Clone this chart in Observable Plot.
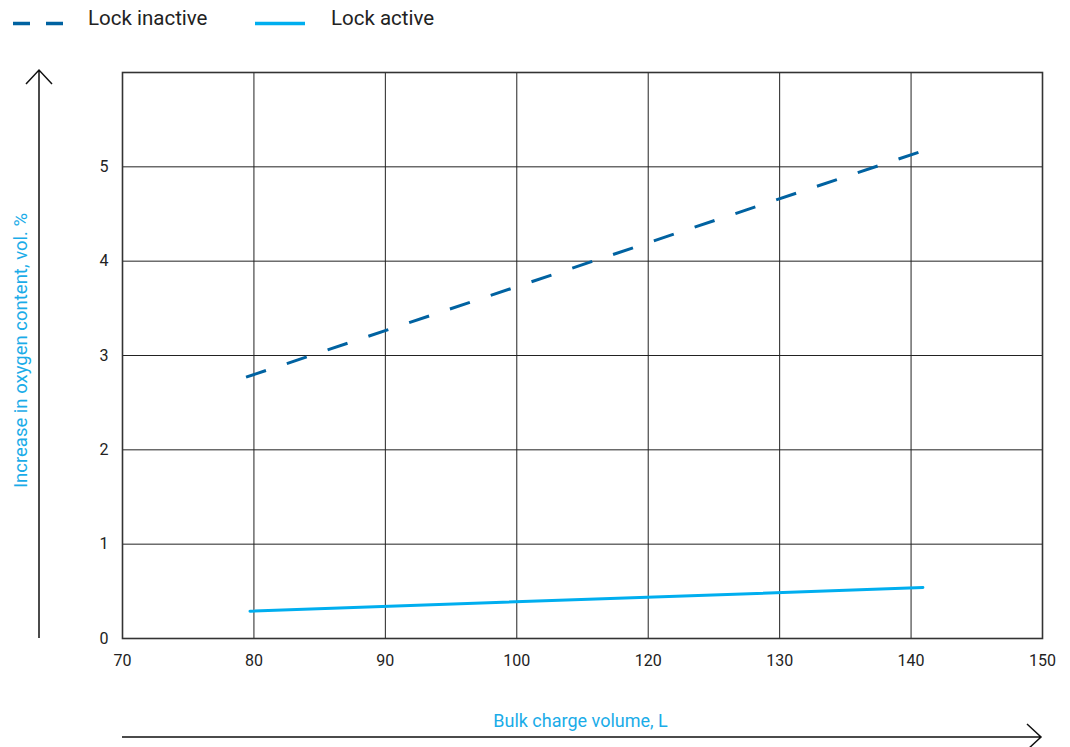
<!DOCTYPE html>
<html><head><meta charset="utf-8">
<script src="https://cdn.jsdelivr.net/npm/d3@7"></script>
<script src="https://cdn.jsdelivr.net/npm/@observablehq/plot@0.6"></script>
<style>
body{margin:0;background:#fff;font-family:Roboto,sans-serif;}
#legend{position:relative;height:45px;width:1070px;}
#legend .sw{position:absolute;top:21px;}
#legend .lb{position:absolute;top:8px;font-size:20.5px;line-height:1;color:#222;white-space:nowrap;}
#chart svg{display:block;}
</style></head><body>
<div id="legend"></div><div id="chart"></div>
<script>
const xTickLabels = [70, 80, 90, 100, 120, 130, 140, 150];
const yTicks = [0, 1, 2, 3, 4, 5];
const yMax = 6;
const seriesNames = ["Lock inactive", "Lock active"];
const inactiveX = [79.4, 140.7];
const inactiveY = [2.77, 5.16];
const activeX = [79.7, 140.9];
const activeY = [0.29, 0.54];
const xLabel = "Bulk charge volume, L";
const yLabel = "Increase in oxygen content, vol. %";
const colors = ["#0062a1", "#00aeef"];
const labelColor = "#1aace8";

const rows = [
  ...inactiveX.map((x, i) => ({series: seriesNames[0], x, y: inactiveY[i]})),
  ...activeX.map((x, i) => ({series: seriesNames[1], x, y: activeY[i]}))
];

(function () {
  // Legend (HTML, above the SVG)
  const legend = d3.select("#legend");
  const items = [
    {name: seriesNames[0], color: colors[0], dash: "17,16", sw: 13, lb: 88},
    {name: seriesNames[1], color: colors[1], dash: null, sw: 255, lb: 331}
  ];
  items.forEach(it => {
    const s = legend.append("svg").attr("class", "sw").attr("width", 52).attr("height", 5)
      .style("left", it.sw + "px");
    s.append("line").attr("x1", 0).attr("x2", 50).attr("y1", 2.5).attr("y2", 2.5)
      .attr("stroke", it.color).attr("stroke-width", 3.5)
      .attr("stroke-dasharray", it.dash);
    legend.append("div").attr("class", "lb").style("left", it.lb + "px").text(it.name);
  });

  const plot = Plot.plot({
    width: 1070,
    height: 702,
    marginTop: 27,
    marginBottom: 109,
    marginLeft: 122,
    marginRight: 28,
    style: {fontFamily: "Roboto, sans-serif", fontSize: "16px", color: "#222", background: "#fff", overflow: "visible"},
    x: {type: "linear", domain: xTickLabels, ticks: xTickLabels, tickFormat: "d", tickSize: 0, tickPadding: 16, label: null},
    y: {type: "linear", domain: [0, yMax], ticks: yTicks, tickFormat: "d", tickSize: 0, tickPadding: 14, label: null},
    marks: [
      Plot.gridX(xTickLabels, {stroke: "#222", strokeOpacity: 1, strokeWidth: 1}),
      Plot.gridY(yTicks.slice(1), {stroke: "#222", strokeOpacity: 1, strokeWidth: 1}),
      Plot.frame({stroke: "#333", strokeWidth: 1.6}),
      Plot.line(rows.filter(d => d.series === seriesNames[0]), {
        x: "x", y: "y", stroke: colors[0], strokeWidth: 3, strokeDasharray: "21,22", strokeLinecap: "butt"
      }),
      Plot.line(rows.filter(d => d.series === seriesNames[1]), {
        x: "x", y: "y", stroke: colors[1], strokeWidth: 3
      }),
      Plot.text([yLabel], {text: d => d, frameAnchor: "left", textAnchor: "middle", dx: -101, dy: -5, rotate: -90, fill: labelColor, fontSize: 18.5}),
      Plot.text([xLabel], {text: d => d, frameAnchor: "bottom", textAnchor: "middle", dy: 88, dx: -2, fill: labelColor, fontSize: 18})
    ]
  });
  document.getElementById("chart").appendChild(plot);

  // Decorative axis arrows, positioned from the plot's scales
  const xs = plot.scale("x"), ys = plot.scale("y");
  const svg = d3.select(plot);
  const pLeft = xs.apply(xTickLabels[0]);
  const pRight = xs.apply(xTickLabels[xTickLabels.length - 1]);
  const pBottom = ys.apply(0);
  const pTop = ys.apply(yMax);
  const ax = pLeft - 83;
  const ay = pBottom + 99;
  const g = svg.append("g").attr("fill", "none").attr("stroke", "#111").attr("stroke-width", 1.5);
  g.append("path").attr("d", `M${ax},${pBottom}L${ax},${pTop - 2}M${ax - 13},${pTop + 12}L${ax},${pTop - 2}L${ax + 13},${pTop + 12}`);
  g.append("path").attr("d", `M${pLeft},${ay}L${pRight - 1},${ay}M${pRight - 15},${ay - 13}L${pRight - 1},${ay}L${pRight - 15},${ay + 13}`);
})();
</script>
</body></html>
